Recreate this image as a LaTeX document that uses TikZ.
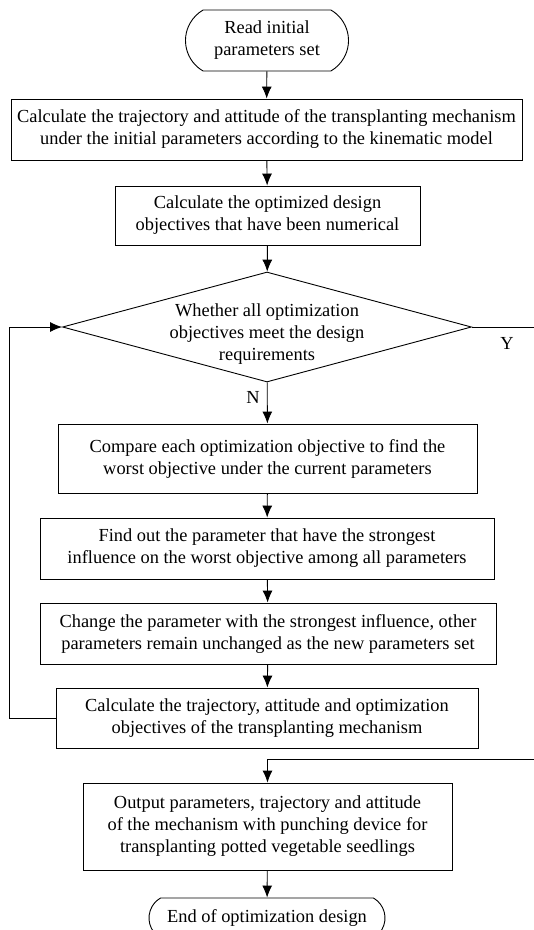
\documentclass[tikz,border=0pt]{standalone}
\usepackage{fontspec}
\setmainfont{Liberation Serif}
\usetikzlibrary{shapes.geometric,shapes.misc,arrows.meta}

\begin{document}
\begin{tikzpicture}[x=1pt,y=-1pt,line width=0.9pt,
	stepbox/.style={draw,rectangle,align=center,inner sep=0pt,font=\fontsize{18.4}{22}\selectfont},
	termbox/.style={draw,rounded rectangle,rounded rectangle arc length=120,align=center,inner sep=0pt,font=\fontsize{18.4}{22}\selectfont},
	decbox/.style={draw,diamond,aspect=3.72,inner sep=-11pt,text height=71pt,align=center,font=\fontsize{18.4}{22}\selectfont},
	arr/.style={-{Latex[length=12pt,width=10pt]}}]
\useasboundingbox (0,0) rectangle (534,930);
		\coordinate (L) at (9,0);
		\coordinate (J) at (540,759);
		\node[termbox,minimum width=163pt,minimum height=61pt] (read) at (267,40.5) {Read initial\\parameters set};
		\node[stepbox,minimum width=511pt,minimum height=61pt] (kin) at (266.5,129.5) {Calculate the trajectory and attitude of the transplanting mechanism\\under the initial parameters according to the kinematic model};
		\node[stepbox,minimum width=305pt,minimum height=59pt] (obj) at (267.5,215.5) {Calculate the optimized design\\objectives that have been numerical};
		\node[decbox,minimum width=409pt,minimum height=110pt] (dec) at (267,327) {Whether all optimization\\objectives meet the design\\requirements};
		\node[stepbox,minimum width=419pt,minimum height=69pt] (worst) at (267.5,458.5) {Compare each optimization objective to find the\\worst objective under the current parameters};
		\node[stepbox,minimum width=454pt,minimum height=61pt] (infl) at (267,548.5) {Find out the parameter that have the strongest\\influence on the worst objective among all parameters};
		\node[stepbox,minimum width=456pt,minimum height=61pt] (chg) at (268,633.5) {Change the parameter with the strongest influence, other\\parameters remain unchanged as the new parameters set};
		\node[stepbox,minimum width=422pt,minimum height=60pt] (recalc) at (267,718) {Calculate the trajectory, attitude and optimization\\objectives of the transplanting mechanism};
		\node[stepbox,minimum width=369pt,minimum height=87pt] (out) at (267.5,826.5) {Output parameters, trajectory and attitude\\of the mechanism with punching device for\\transplanting potted vegetable seedlings};
		\node[termbox,minimum width=236pt,minimum height=40pt] (fin) at (267,918) {End of optimization design};
		\node[font=\fontsize{18.4}{22}\selectfont] (nlab) at (253,397) {N};
		\node[font=\fontsize{18.4}{22}\selectfont] (ylab) at (507,343) {Y};
		\draw[arr] (read) -- (kin);
		\draw[arr] (kin) -- (obj);
		\draw[arr] (obj) -- (dec);
		\draw[arr] (dec) -- (worst);
		\draw[arr] (worst) -- (infl);
		\draw[arr] (infl) -- (chg);
		\draw[arr] (chg) -- (recalc);
		\draw[arr] (recalc.west) -- (recalc.west -| L) |- (dec.west);
		\draw[arr] (dec.east) -| (J) -| (out.north);
		\draw[arr] (out) -- (fin);
\end{tikzpicture}
\end{document}
